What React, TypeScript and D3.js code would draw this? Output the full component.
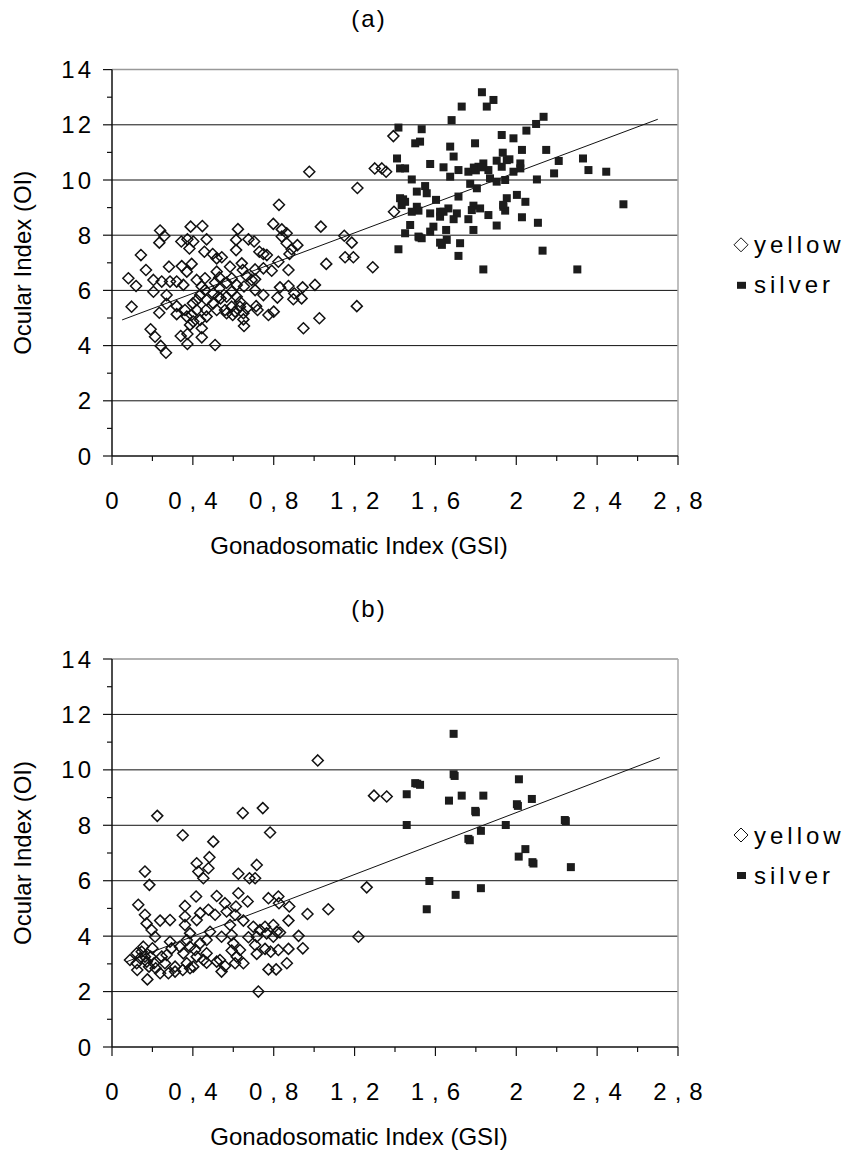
import React from 'react';
import * as d3 from 'd3';

// GSI / OI readings, panel (a)
const yellowA: [number, number][] = [
  [1.392, 11.59], [1.30, 10.42], [1.335, 10.42], [1.356, 10.30], [0.976, 10.30], [1.214, 9.71], [0.826, 9.10],
  [1.395, 8.85], [1.033, 8.31], [0.798, 8.41], [0.84, 8.21], [0.84, 7.95], [0.864, 8.07], [0.238, 8.17], [0.389, 8.31],
  [0.447, 8.33], [0.623, 8.22], [1.149, 7.98], [1.186, 7.73], [0.259, 7.97], [0.234, 7.73], [0.343, 7.77],
  [0.373, 7.85], [0.402, 7.77], [0.383, 7.52], [0.468, 7.85], [0.614, 7.83], [0.614, 7.46], [0.675, 7.85],
  [0.703, 7.77], [0.457, 7.40], [0.498, 7.32], [0.518, 7.16], [0.543, 7.20], [0.729, 7.40], [0.749, 7.32],
  [0.766, 7.28], [0.864, 7.71], [0.889, 7.49], [0.917, 7.64], [0.878, 7.32], [1.153, 7.20], [1.194, 7.20],
  [1.06, 6.96], [1.29, 6.84], [0.143, 7.28], [0.168, 6.74], [0.282, 6.86], [0.345, 6.88], [0.37, 6.68],
  [0.394, 6.96], [0.081, 6.44], [0.119, 6.16], [0.205, 6.38], [0.246, 6.32], [0.287, 6.32], [0.32, 6.32],
  [0.353, 6.20], [0.205, 5.95], [0.27, 5.83], [0.27, 5.51], [0.097, 5.41], [0.234, 5.19], [0.32, 5.43],
  [0.32, 5.14], [0.191, 4.59], [0.213, 4.32], [0.241, 3.99], [0.267, 3.74], [0.34, 4.35], [0.373, 4.42],
  [0.373, 4.06], [0.444, 4.30], [0.51, 4.02], [0.653, 4.71], [0.947, 4.63], [1.026, 4.99], [1.211, 5.43],
  [0.774, 5.11], [0.80, 5.23], [0.818, 5.74], [0.831, 6.11], [0.873, 6.16], [0.902, 5.89], [0.897, 5.68],
  [0.938, 5.71], [0.943, 6.11], [1.004, 6.20], [0.823, 7.04], [0.79, 6.71], [0.873, 6.74], [0.749, 6.80],
  [0.708, 6.76], [0.691, 6.38], [0.708, 6.01], [0.749, 5.83], [0.713, 5.43], [0.72, 5.29], [0.642, 6.98],
  [0.647, 6.74], [0.666, 6.52], [0.653, 6.14], [0.584, 6.86], [0.592, 6.44], [0.567, 6.28], [0.617, 6.20],
  [0.592, 5.95], [0.567, 5.77], [0.617, 5.77], [0.633, 5.59], [0.592, 5.41], [0.567, 5.17], [0.597, 5.11],
  [0.633, 5.41], [0.65, 5.17], [0.65, 4.95], [0.609, 5.23], [0.559, 5.29], [0.518, 6.68], [0.531, 6.47],
  [0.51, 6.28], [0.531, 6.07], [0.501, 5.89], [0.526, 5.77], [0.537, 5.71], [0.501, 5.53], [0.518, 5.29],
  [0.468, 5.65], [0.465, 5.29], [0.419, 6.38], [0.46, 6.44], [0.444, 6.14], [0.46, 6.01], [0.436, 5.83],
  [0.419, 5.65], [0.40, 5.53], [0.419, 5.29], [0.394, 5.11], [0.37, 5.05], [0.436, 4.93], [0.468, 5.05],
  [0.444, 4.63], [0.386, 4.75], [0.402, 4.87], [0.361, 5.29], [0.708, 6.40], [0.666, 5.35],
];

const silverA: [number, number][] = [
  [1.83, 13.18], [1.887, 12.90], [1.854, 12.66], [1.73, 12.66], [1.68, 12.17], [2.135, 12.29], [2.098, 12.03],
  [2.05, 11.79], [1.532, 11.84], [1.417, 11.90], [1.524, 11.39], [1.50, 11.33], [1.928, 11.63], [1.986, 11.51],
  [1.673, 11.21], [1.796, 11.33], [2.028, 11.09], [2.148, 11.09], [1.69, 10.85], [1.933, 10.99], [1.966, 10.75],
  [1.41, 10.78], [1.574, 10.58], [1.64, 10.46], [1.425, 10.42], [1.45, 10.42], [2.21, 10.69], [2.33, 10.78],
  [2.357, 10.36], [2.445, 10.30], [2.187, 10.24], [1.714, 10.36], [1.763, 10.30], [1.813, 10.48], [1.837, 10.60],
  [1.862, 10.36], [1.903, 10.70], [1.928, 10.48], [1.953, 10.72], [2.02, 10.60], [2.02, 10.42], [1.986, 10.30],
  [1.673, 10.12], [1.483, 10.02], [2.102, 10.02], [1.87, 10.06], [1.903, 9.94], [1.945, 10.00], [1.772, 9.86],
  [1.805, 9.70], [1.549, 9.78], [1.557, 9.52], [1.508, 9.58], [1.425, 9.34], [1.45, 9.21], [1.433, 9.09],
  [1.508, 9.03], [1.516, 8.89], [1.483, 8.85], [1.603, 9.28], [1.714, 9.40], [1.953, 9.34], [2.003, 9.46],
  [2.045, 9.21], [2.53, 9.12], [1.574, 8.79], [1.623, 8.85], [1.664, 8.97], [1.706, 8.79], [1.69, 8.58],
  [1.788, 9.07], [1.78, 8.91], [1.821, 8.97], [1.862, 8.73], [1.936, 9.03], [1.945, 8.89], [1.763, 8.58],
  [1.623, 8.67], [1.64, 8.85], [2.028, 8.65], [1.903, 8.35], [1.788, 8.19], [2.107, 8.45], [1.475, 8.37],
  [1.45, 8.07], [1.516, 7.95], [1.532, 7.89], [1.574, 8.13], [1.59, 8.31], [1.653, 8.19], [1.656, 7.83],
  [1.632, 7.65], [1.623, 7.73], [1.722, 7.71], [1.417, 7.49], [1.714, 7.25], [2.13, 7.44], [1.837, 6.76],
  [2.302, 6.76], [1.44, 9.30], [1.52, 7.92], [1.935, 9.10], [1.79, 10.45], [1.80, 10.35], [1.83, 10.46],
];

// panel (b)
const yellowB: [number, number][] = [
  [1.018, 10.34], [1.296, 9.07], [1.359, 9.04], [0.224, 8.34], [0.35, 7.64], [0.501, 7.41], [0.647, 8.44],
  [0.746, 8.62], [0.782, 7.74], [0.163, 6.33], [0.185, 5.85], [0.419, 6.63], [0.427, 6.33], [0.452, 6.09],
  [0.477, 6.45], [0.482, 6.85], [0.625, 6.25], [0.68, 6.09], [0.708, 6.09], [0.716, 6.57], [1.26, 5.76],
  [1.07, 4.97], [0.967, 4.80], [1.219, 3.98], [0.13, 5.13], [0.163, 4.77], [0.171, 4.46], [0.196, 4.22],
  [0.213, 3.98], [0.238, 4.56], [0.287, 4.58], [0.361, 5.09], [0.361, 4.71], [0.416, 5.43], [0.436, 4.83],
  [0.477, 4.95], [0.51, 4.77], [0.518, 5.45], [0.559, 5.19], [0.567, 4.89], [0.613, 5.07], [0.609, 4.77],
  [0.625, 5.55], [0.671, 5.25], [0.774, 5.37], [0.823, 5.43], [0.826, 5.19], [0.877, 5.07], [0.873, 4.56],
  [0.798, 4.40], [0.815, 4.16], [0.831, 4.13], [0.923, 4.01], [0.944, 3.56], [0.873, 3.54], [0.865, 3.02],
  [0.774, 2.80], [0.812, 2.80], [0.724, 2.00], [0.65, 4.56], [0.699, 4.34], [0.732, 4.22], [0.757, 4.34],
  [0.765, 4.10], [0.798, 3.98], [0.716, 3.98], [0.675, 3.96], [0.708, 3.68], [0.716, 3.36], [0.757, 3.54],
  [0.785, 3.44], [0.823, 3.50], [0.584, 4.40], [0.592, 4.04], [0.60, 3.74], [0.592, 3.48], [0.617, 3.26],
  [0.633, 3.50], [0.609, 3.02], [0.65, 3.02], [0.542, 3.98], [0.534, 3.14], [0.559, 2.92], [0.542, 2.72],
  [0.518, 3.08], [0.485, 4.16], [0.468, 3.86], [0.436, 3.74], [0.468, 3.38], [0.452, 3.14], [0.419, 3.26],
  [0.468, 3.04], [0.402, 2.90], [0.419, 4.58], [0.361, 4.40], [0.386, 4.10], [0.37, 3.86], [0.386, 3.62],
  [0.411, 3.50], [0.336, 3.62], [0.353, 3.38], [0.37, 3.02], [0.35, 2.78], [0.386, 2.84], [0.312, 2.90],
  [0.287, 3.80], [0.295, 3.56], [0.27, 3.32], [0.262, 3.02], [0.279, 2.66], [0.312, 2.72], [0.246, 3.26],
  [0.238, 2.66], [0.20, 3.56], [0.191, 3.26], [0.208, 3.02], [0.183, 2.90], [0.216, 2.84], [0.163, 3.26],
  [0.155, 3.62], [0.147, 3.44], [0.122, 3.02], [0.122, 3.38], [0.172, 3.08], [0.139, 3.20], [0.125, 2.78],
  [0.175, 2.44], [0.089, 3.14],
];

const silverB: [number, number][] = [
  [1.69, 11.30], [1.69, 9.84], [1.695, 9.78], [1.50, 9.52], [1.51, 9.50], [1.524, 9.46], [2.013, 9.66],
  [1.458, 9.12], [1.73, 9.07], [1.837, 9.07], [1.667, 8.89], [2.077, 8.95], [2.003, 8.76], [2.008, 8.70],
  [1.797, 8.52], [1.80, 8.47], [1.458, 8.01], [1.948, 8.01], [2.24, 8.19], [2.245, 8.15], [1.825, 7.80],
  [1.763, 7.51], [1.77, 7.46], [2.045, 7.14], [2.012, 6.87], [2.08, 6.67], [2.085, 6.62], [2.27, 6.49],
  [1.57, 5.99], [1.825, 5.73], [1.70, 5.49], [1.557, 4.97],
];

// linear trend lines (start, end)
const trendA: [number, number][] = [[0.05, 4.93], [2.70, 12.2]];
const trendB: [number, number][] = [[0.07, 3.07], [2.71, 10.44]];

const xTicks = [0, 0.4, 0.8, 1.2, 1.6, 2, 2.4, 2.8];
const xTickLabels = ['0', '0,4', '0,8', '1,2', '1,6', '2', '2,4', '2,8'];
const xMinor = [0.2, 0.6, 1.0, 1.4, 1.8, 2.2, 2.6];
const yTicks = [0, 2, 4, 6, 8, 10, 12, 14];
const yMinor = [1, 3, 5, 7, 9, 11, 13];
const seriesNames = ['yellow', 'silver'];

const FONT = '"Liberation Sans", Arial, sans-serif';
const LEFT = 112;
const RIGHT = 678;
const FS = 24;

const diamond = (cx: number, cy: number, r: number) =>
  `M${cx},${cy - r}L${cx + r},${cy}L${cx},${cy + r}L${cx - r},${cy}Z`;

const Panel = (props: IPanelProps) => {
  const x = d3.scaleLinear().domain([0, 2.8]).range([LEFT, RIGHT]);
  const y = d3.scaleLinear().domain([0, 14]).range([props.bottom, props.top]);
  const line = d3.line<[number, number]>().x((d) => x(d[0])).y((d) => y(d[1]));
  const legendY = (props.top + props.bottom) / 2;

  return (
    <g>
      <text x={369} y={props.top - 51} textAnchor="middle" dominantBaseline="central"
        fontFamily={FONT} fontSize={FS} letterSpacing={2}>{props.title}</text>

      {/* gridlines */}
      {yTicks.filter((t) => t > 0 && t < 14).map((t) => (
        <line key={'g' + t} x1={LEFT} x2={RIGHT} y1={y(t)} y2={y(t)} stroke="#111" strokeWidth={1} />
      ))}
      {/* top/right border */}
      <line x1={LEFT} x2={RIGHT} y1={y(14)} y2={y(14)} stroke="#999" strokeWidth={1.5} />
      <line x1={RIGHT} x2={RIGHT} y1={y(14)} y2={y(0)} stroke="#aaa" strokeWidth={1.5} />

      {/* axes */}
      <line x1={LEFT} x2={LEFT} y1={y(14)} y2={y(0)} stroke="#111" strokeWidth={1.5} />
      <line x1={LEFT} x2={RIGHT} y1={y(0)} y2={y(0)} stroke="#111" strokeWidth={1.5} />
      {yTicks.map((t) => (
        <g key={'yt' + t}>
          <line x1={LEFT - 9} x2={LEFT} y1={y(t)} y2={y(t)} stroke="#111" strokeWidth={1.2} />
          <text x={94} y={y(t)} textAnchor="end" dominantBaseline="central" fontFamily={FONT}
            fontSize={FS} letterSpacing={3}>{t}</text>
        </g>
      ))}
      {yMinor.map((t) => (
        <line key={'ym' + t} x1={LEFT - 5} x2={LEFT} y1={y(t)} y2={y(t)} stroke="#111" strokeWidth={1.2} />
      ))}
      {xTicks.map((t, i) => (
        <g key={'xt' + t}>
          <line x1={x(t)} x2={x(t)} y1={y(0)} y2={y(0) + 9} stroke="#111" strokeWidth={1.2} />
          <text x={x(t) + 4} y={y(0) + 44} textAnchor="middle" dominantBaseline="central" fontFamily={FONT}
            fontSize={FS} letterSpacing={8}>{xTickLabels[i]}</text>
        </g>
      ))}
      {xMinor.map((t) => (
        <line key={'xm' + t} x1={x(t)} x2={x(t)} y1={y(0)} y2={y(0) + 5} stroke="#111" strokeWidth={1.2} />
      ))}

      <text x={359} y={y(0) + 89} textAnchor="middle" dominantBaseline="central" fontFamily={FONT}
        fontSize={FS}>Gonadosomatic Index (GSI)</text>
      <text transform={`translate(22,${legendY}) rotate(-90)`} textAnchor="middle" dominantBaseline="central"
        fontFamily={FONT} fontSize={FS}>Ocular Index (OI)</text>

      {/* trend line */}
      <path d={line(props.trend) || ''} fill="none" stroke="#111" strokeWidth={1} />

      {/* points */}
      {props.yellow.map((d, i) => (
        <path key={'y' + i} d={diamond(x(d[0]), y(d[1]), 5.5)} fill="none" stroke="#111" strokeWidth={1.5} />
      ))}
      {props.silver.map((d, i) => (
        <rect key={'s' + i} x={x(d[0]) - 4} y={y(d[1]) - 4} width={8} height={8} fill="#1c1c1c" />
      ))}

      {/* legend */}
      <path d={diamond(741, legendY - 18, 7)} fill="none" stroke="#111" strokeWidth={1} />
      <text x={754} y={legendY - 18} dominantBaseline="central" fontFamily={FONT} fontSize={FS}
        letterSpacing={4}>{seriesNames[0]}</text>
      <rect x={737} y={legendY + 19} width={9} height={7} fill="#1c1c1c" />
      <text x={754} y={legendY + 22} dominantBaseline="central" fontFamily={FONT} fontSize={FS}
        letterSpacing={4}>{seriesNames[1]}</text>
    </g>
  );
};

interface IPanelProps {
  title: string
  top: number
  bottom: number
  yellow: [number, number][]
  silver: [number, number][]
  trend: [number, number][]
}

const App = () => {
  return (
    <svg width={858} height={1154} style={{ position: 'absolute', left: 0, top: 0, background: '#fff' }}>
      <rect width={858} height={1154} fill="#fff" />
      <Panel title="(a)" top={69.6} bottom={456} yellow={yellowA} silver={silverA} trend={trendA} />
      <Panel title="(b)" top={659} bottom={1047} yellow={yellowB} silver={silverB} trend={trendB} />
    </svg>
  );
};

export default App;
